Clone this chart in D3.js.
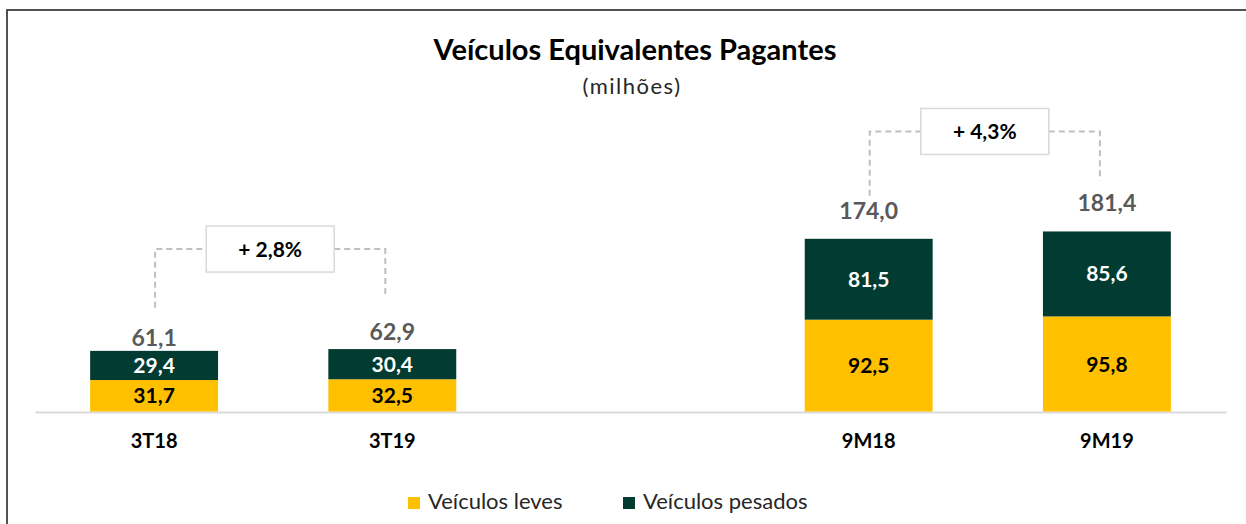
<!DOCTYPE html>
<html>
<head>
<meta charset="utf-8">
<script src="https://cdn.jsdelivr.net/npm/d3@7"></script>
<style>
  body { margin: 0; background: #fff; }
  text { font-family: Lato, "Open Sans", sans-serif; }
</style>
</head>
<body>
<div id="chart_area"></div>
<script>
// data
var categories = ["3T18", "3T19", "9M18", "9M19"];
var leves = [31.7, 32.5, 92.5, 95.8];
var pesados = [29.4, 30.4, 81.5, 85.6];
var totals = [61.1, 62.9, 174.0, 181.4];
var growth = [
    {from: "3T18", to: "3T19", label: "+ 2,8%"},
    {from: "9M18", to: "9M19", label: "+ 4,3%"}
];
var seriesNames = ["Veículos leves", "Veículos pesados"];

var colors = {leves: "#FFC000", pesados: "#023B31"};
// how far each total label sits above its bar
var totalLift = [5, 9, 20, 20];

var width = 1246, height = 524;

var svg = d3.select("#chart_area")
    .append("svg")
        .attr("width", width)
        .attr("height", height);

// frame
svg.append("rect")
    .attr("x", 7)
    .attr("y", 10)
    .attr("width", 1260)
    .attr("height", 540)
    .attr("fill", "none")
    .attr("stroke", "#404040")
    .attr("stroke-width", 1.8);

// title
svg.append("text")
    .attr("x", 635)
    .attr("y", 60)
    .attr("text-anchor", "middle")
    .attr("font-size", "29px")
    .attr("font-weight", "bold")
    .attr("fill", "#000")
    .text("Veículos Equivalentes Pagantes");

svg.append("text")
    .attr("x", 632)
    .attr("y", 94)
    .attr("text-anchor", "middle")
    .attr("font-size", "22px")
    .attr("letter-spacing", "1.5px")
    .attr("fill", "#262626")
    .text("(milhões)");

// x scale, with an empty slot between the two groups
var slots = ["3T18", "3T19", "_gap", "9M18", "9M19"];
var x = d3.scaleBand()
    .domain(slots)
    .range([35, 1226])
    .paddingInner(0.463)
    .paddingOuter(0.2315);

var y = d3.scaleLinear()
    .domain([0, 200])
    .range([411.5, 213]);

var rows = categories.map(function(c, i){
    return {cat: c, leves: leves[i], pesados: pesados[i], total: totals[i], i: i};
});

// x axis
var xAxis = d3.axisBottom(x)
    .tickValues(categories)
    .tickSize(0)
    .tickPadding(22);
var gx = svg.append("g")
    .attr("transform", "translate(0," + 412 + ")")
    .call(xAxis);
gx.select(".domain")
    .attr("stroke", "#D9D9D9")
    .attr("stroke-width", 2);
gx.selectAll("text")
    .attr("font-family", "Lato, sans-serif")
    .attr("font-size", "20px")
    .attr("font-weight", "bold")
    .attr("fill", "#000");

// bars
svg.selectAll(".leves")
    .data(rows)
    .enter().append("rect")
        .attr("class", "leves")
        .attr("x", function(d){ return x(d.cat); })
        .attr("width", x.bandwidth())
        .attr("y", function(d){ return y(d.leves); })
        .attr("height", function(d){ return y(0) - y(d.leves); })
        .attr("fill", colors.leves);

svg.selectAll(".pesados")
    .data(rows)
    .enter().append("rect")
        .attr("class", "pesados")
        .attr("x", function(d){ return x(d.cat); })
        .attr("width", x.bandwidth())
        .attr("y", function(d){ return y(d.leves + d.pesados); })
        .attr("height", function(d){ return y(d.leves) - y(d.leves + d.pesados); })
        .attr("fill", colors.pesados);

function fmt(v){
    return v.toFixed(1).replace(".", ",");
}

// segment labels
svg.selectAll(".lbl-leves")
    .data(rows)
    .enter().append("text")
        .attr("x", function(d){ return x(d.cat) + x.bandwidth()/2; })
        .attr("y", function(d){ return (y(0) + y(d.leves))/2; })
        .attr("dy", "0.36em")
        .attr("text-anchor", "middle")
        .attr("font-size", "21px")
        .attr("font-weight", "bold")
        .attr("fill", "#000")
        .text(function(d){ return fmt(d.leves); });

svg.selectAll(".lbl-pesados")
    .data(rows)
    .enter().append("text")
        .attr("x", function(d){ return x(d.cat) + x.bandwidth()/2; })
        .attr("y", function(d){ return (y(d.leves) + y(d.leves + d.pesados))/2; })
        .attr("dy", "0.36em")
        .attr("text-anchor", "middle")
        .attr("font-size", "21px")
        .attr("font-weight", "bold")
        .attr("fill", "#fff")
        .text(function(d){ return fmt(d.pesados); });

// totals
svg.selectAll(".lbl-total")
    .data(rows)
    .enter().append("text")
        .attr("x", function(d){ return x(d.cat) + x.bandwidth()/2; })
        .attr("y", function(d){ return y(d.total) - totalLift[d.i]; })
        .attr("text-anchor", "middle")
        .attr("font-size", "23px")
        .attr("font-weight", "bold")
        .attr("fill", "#595959")
        .text(function(d){ return fmt(d.total); });

// growth brackets
growth.forEach(function(g){
    var a = rows[categories.indexOf(g.from)];
    var b = rows[categories.indexOf(g.to)];
    var xa = x(a.cat) + x.bandwidth()/2 + 1;
    var xb = x(b.cat) + x.bandwidth()/2 - 7;
    var top = y(Math.max(a.total, b.total)) - 100;
    var mid = (xa + xb)/2;
    var bw = 128, bh = 46;

    var dash = svg.append("g")
        .attr("fill", "none")
        .attr("stroke", "#BFBFBF")
        .attr("stroke-width", 2)
        .attr("stroke-dasharray", "6,4");
    dash.append("path")
        .attr("d", "M" + xa + "," + (y(a.total) - 43) + "V" + top + "H" + (mid - bw/2));
    dash.append("path")
        .attr("d", "M" + (mid + bw/2) + "," + top + "H" + xb + "V" + (y(b.total) - 51));

    svg.append("rect")
        .attr("x", mid - bw/2)
        .attr("y", top - bh/2)
        .attr("width", bw)
        .attr("height", bh)
        .attr("fill", "#fff")
        .attr("stroke", "#D9D9D9")
        .attr("stroke-width", 1.5);

    svg.append("text")
        .attr("x", mid)
        .attr("y", top)
        .attr("dy", "0.36em")
        .attr("text-anchor", "middle")
        .attr("font-size", "21px")
        .attr("font-weight", "bold")
        .attr("fill", "#000")
        .text(g.label);
});

// legend
var legendX = [408, 623];
var legend = svg.selectAll(".legend")
    .data(seriesNames)
    .enter().append("g")
        .attr("class", "legend")
        .attr("transform", function(d, i){ return "translate(" + legendX[i] + ",497)"; });
legend.append("rect")
    .attr("width", 12)
    .attr("height", 12)
    .attr("fill", function(d, i){ return i == 0 ? colors.leves : colors.pesados; });
legend.append("text")
    .attr("x", 20)
    .attr("y", 12)
    .attr("font-size", "22px")
    .attr("fill", "#262626")
    .text(function(d){ return d; });
</script>
</body>
</html>
